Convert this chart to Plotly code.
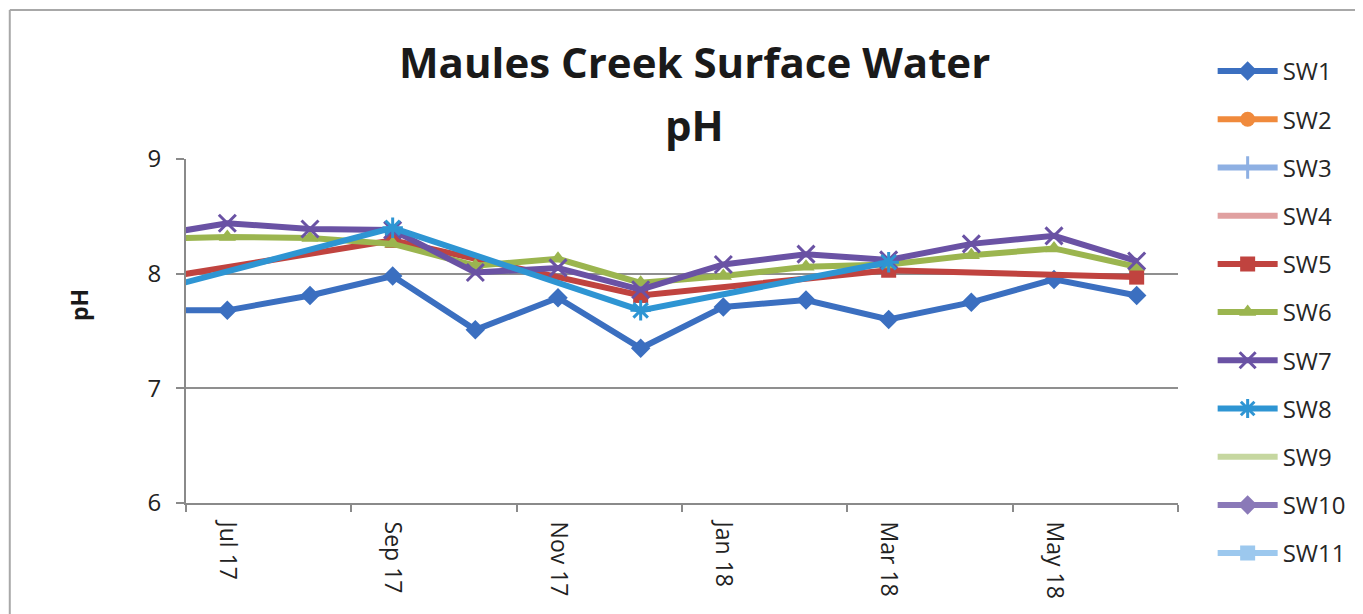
import plotly.graph_objects as go

# ---------------- data ----------------
months = ["Jun 17", "Jul 17", "Aug 17", "Sep 17", "Oct 17", "Nov 17", "Dec 17",
          "Jan 18", "Feb 18", "Mar 18", "Apr 18", "May 18", "Jun 18"]
tick_labels = ["Jul 17", "Sep 17", "Nov 17", "Jan 18", "Mar 18", "May 18"]

sw1 = [7.68, 7.68, 7.81, 7.98, 7.51, 7.79, 7.35, 7.71, 7.77, 7.60, 7.75, 7.95, 7.81]
sw2 = [None] * 13
sw3 = [None] * 13
sw4 = [None] * 13
sw5 = [7.94, None, None, 8.29, None, None, 7.81, None, None, 8.03, None, None, 7.97]
sw6 = [8.30, 8.32, 8.31, 8.26, 8.07, 8.13, 7.92, 7.98, 8.06, 8.08, 8.16, 8.22, 8.06]
sw7 = [8.32, 8.44, 8.39, 8.38, 8.01, 8.05, 7.86, 8.08, 8.17, 8.12, 8.26, 8.33, 8.11]
sw8 = [7.83, None, None, 8.40, None, None, 7.68, None, None, 8.10, None, None, None]
sw9 = [None] * 13
sw10 = [None] * 13
sw11 = [None] * 13

series = [
    ("SW1", sw1, "#3b6fc0", "diamond"),
    ("SW2", sw2, "#f08a3c", "circle"),
    ("SW3", sw3, "#8eb0e3", "line-ns"),
    ("SW4", sw4, "#e0a0a0", None),
    ("SW5", sw5, "#c0433f", "square"),
    ("SW6", sw6, "#9bb54f", "triangle-up"),
    ("SW7", sw7, "#6a52a4", "x-thin"),
    ("SW8", sw8, "#2e95d3", "asterisk"),
    ("SW9", sw9, "#c6d7a0", None),
    ("SW10", sw10, "#8a79b8", "diamond"),
    ("SW11", sw11, "#9cc8ee", "square"),
]

FONT = "Open Sans"

# screen-pixel geometry of the plot area (page body has an 8px offset)
OFF = 8
L, R, T, B = 186, 1188, 159, 503
W, H = 1363, 614


def px(xp):
    return (xp - L) / (R - L)


def py(yp):
    return (B - yp) / (B - T)


xs = list(range(len(months)))

fig = go.Figure()
for name, vals, color, sym in series:
    mode = "lines+markers" if sym else "lines"
    marker = dict(size=15, color=color)
    if sym in ("x-thin", "asterisk", "line-ns"):
        marker = dict(size=17, color=color, line=dict(color=color, width=3))
    if sym:
        marker["symbol"] = sym
    fig.add_trace(go.Scatter(
        x=xs, y=vals, name=name, mode=mode, legendgroup=name,
        line=dict(color=color, width=6),
        marker=marker,
        connectgaps=True,
        cliponaxis=True,
    ))

fig.update_layout(
    width=W - OFF, height=H - OFF,
    margin=dict(l=L - OFF, r=W - R, t=T - OFF, b=H - B),
    paper_bgcolor="white", plot_bgcolor="white",
    showlegend=True,
    legend=dict(
        x=px(1223), y=py(49), xanchor="left", yanchor="top",
        font=dict(family=FONT, size=24, color="#262626"),
        itemwidth=60, tracegroupgap=14, maxheight=600,
        bgcolor="rgba(0,0,0,0)",
    ),
    font=dict(family=FONT, color="#222222"),
)

fig.update_xaxes(
    range=[0.5, 12.5],
    tickmode="array",
    tickvals=[1, 3, 5, 7, 9, 11],
    ticktext=tick_labels,
    tickangle=90,
    ticks="outside", ticklen=12, tickcolor="rgba(0,0,0,0)",
    tickfont=dict(family=FONT, size=23, color="#222222"),
    showgrid=False, zeroline=False,
    showline=True, linecolor="#8a8a8a", linewidth=2,
    minor=dict(tickmode="array", tickvals=[0.5, 2.5, 4.5, 6.5, 8.5, 10.5, 12.5],
               ticks="outside", ticklen=7, tickcolor="#8a8a8a", tickwidth=2,
               showgrid=False),
)

fig.update_yaxes(
    range=[6, 9], dtick=1,
    ticks="outside", ticklen=8, tickcolor="#8a8a8a", tickwidth=2,
    ticklabelstandoff=10,
    tickfont=dict(family=FONT, size=24, color="#222222"),
    showgrid=True, gridcolor="#8f8f8f", gridwidth=1.5,
    zeroline=False,
    showline=True, linecolor="#8a8a8a", linewidth=2,
)

# titles
fig.add_annotation(text="<b>Maules Creek Surface Water</b>", x=px(700), y=py(62),
                   xref="paper", yref="paper", xanchor="center", yanchor="middle",
                   showarrow=False, font=dict(family=FONT, size=42, color="#1a1a1a"))
fig.add_annotation(text="<b>pH</b>", x=px(700), y=py(124),
                   xref="paper", yref="paper", xanchor="center", yanchor="middle",
                   showarrow=False, font=dict(family=FONT, size=42, color="#1a1a1a"))
fig.add_annotation(text="<b>pH</b>", x=px(78), y=py(305), textangle=-90,
                   xref="paper", yref="paper", xanchor="center", yanchor="middle",
                   showarrow=False, font=dict(family=FONT, size=23, color="#1a1a1a"))

# chart-area border (left and top edges visible)
fig.add_shape(type="line", xref="paper", yref="paper",
              x0=px(8), x1=px(8), y0=py(10), y1=py(W), line=dict(color="#a8a8a8", width=2))
fig.add_shape(type="line", xref="paper", yref="paper",
              x0=px(8), x1=px(W + 10), y0=py(10), y1=py(10), line=dict(color="#a8a8a8", width=2))

fig.write_html("out.html")
